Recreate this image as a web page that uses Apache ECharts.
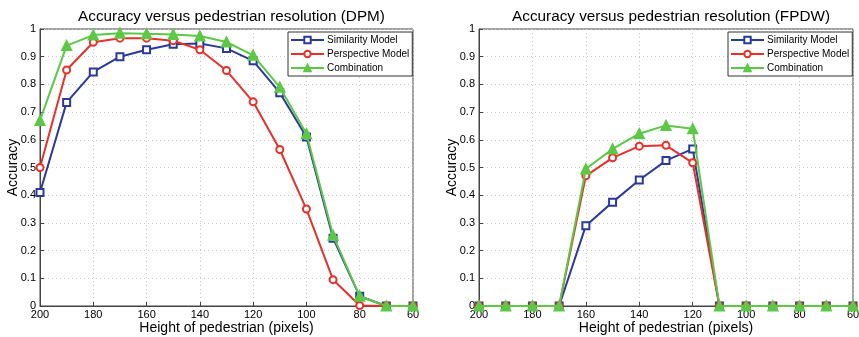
<!DOCTYPE html>
<html><head><meta charset="utf-8">
<script src="https://cdn.jsdelivr.net/npm/echarts@6/dist/echarts.min.js"></script>
<style>html,body{margin:0;padding:0;background:#fff}#c{width:859px;height:337px}</style>
</head><body><div id="c"></div>
<script>
const heights = [200,190,180,170,160,150,140,130,120,110,100,90,80,70,60];
const titles = ['Accuracy versus pedestrian resolution (DPM)','Accuracy versus pedestrian resolution (FPDW)'];
const seriesNames = ['Similarity Model','Perspective Model','Combination'];
const dpmSimilarity  = [0.41,0.735,0.845,0.90,0.925,0.945,0.948,0.93,0.885,0.77,0.61,0.245,0.035,0,0];
const dpmPerspective = [0.50,0.852,0.952,0.967,0.967,0.958,0.925,0.85,0.737,0.565,0.35,0.095,0.002,0,0];
const dpmCombination = [0.67,0.94,0.978,0.985,0.983,0.98,0.975,0.953,0.905,0.79,0.622,0.255,0.035,0,0];
const fpdwSimilarity  = [0,0,0,0,0.29,0.375,0.455,0.525,0.567,0,0,0,0,0,0];
const fpdwPerspective = [0,0,0,0,0.47,0.535,0.577,0.58,0.517,0,0,0,0,0,0];
const fpdwCombination = [0,0,0,0,0.495,0.567,0.622,0.652,0.64,0,0,0,0,0,0];

const colors = ['#2a3a9c','#e8302a','#5cc845'];
const symbols = ['rect','circle','triangle'];
const FONT = 'Liberation Sans';
const grids = [
  {left:40, top:29, width:373, height:277},
  {left:479, top:29, width:374, height:277}
];
const dataSets = [[dpmSimilarity,dpmPerspective,dpmCombination],[fpdwSimilarity,fpdwPerspective,fpdwCombination]];

const xAxes = [], yAxes = [], series = [], titleArr = [], legends = [];
grids.forEach((g,i)=>{
  g.show = true; g.borderColor = '#444'; g.borderWidth = 1; g.outerBoundsMode = 'none'; g.containLabel = false;
  titleArr.push({text:titles[i], left: g.left + g.width/2, top: 4, textAlign:'center',
    textStyle:{fontFamily:FONT, fontSize:15.3, fontWeight:'normal', color:'#000'}});
  xAxes.push({type:'value', gridIndex:i, min:60, max:200, interval:20, inverse:true,
    name:'Height of pedestrian (pixels)', nameLocation:'middle', nameGap:15, nameMoveOverlap:false,
    nameTextStyle:{fontFamily:FONT, fontSize:14, color:'#000'},
    axisLine:{show:true, lineStyle:{color:'#444'}}, axisTick:{show:true, inside:true, length:4, lineStyle:{color:'#444'}},
    axisLabel:{fontFamily:FONT, fontSize:11, color:'#000', margin:3},
    splitLine:{show:true, lineStyle:{color:'#c8c8c8', type:[1,3]}}});
  yAxes.push({type:'value', gridIndex:i, min:0, max:1, interval:0.1,
    name:'Accuracy', nameLocation:'middle', nameGap:20, nameMoveOverlap:false,
    nameTextStyle:{fontFamily:FONT, fontSize:14, color:'#000'},
    axisLine:{show:true, lineStyle:{color:'#444'}}, axisTick:{show:true, inside:true, length:4, lineStyle:{color:'#444'}},
    axisLabel:{fontFamily:FONT, fontSize:11, color:'#000', margin:4, formatter:v=>String(+v.toFixed(1))},
    splitLine:{show:true, lineStyle:{color:'#c8c8c8', type:[1,3]}}});
  seriesNames.forEach((n,k)=>{
    series.push({type:'line', name:n, xAxisIndex:i, yAxisIndex:i,
      data: heights.map((h,j)=>[h, dataSets[i][k][j]]),
      symbol: symbols[k], symbolSize: k===2?9:7,
      lineStyle:{color:colors[k], width:2},
      itemStyle:{color: k===2?colors[k]:'#ffffff', borderColor:colors[k], borderWidth:2},
      emphasis:{disabled:true}, animation:false, z: 2+k});
  });
  legends.push({data:seriesNames, orient:'vertical', left: i===0?288:728, top:32,
    padding:[2,3,2,2], itemGap:2, itemWidth:33, itemHeight:8,
    backgroundColor:'#fff', borderColor:'#333', borderWidth:1,
    textStyle:{fontFamily:FONT, fontSize:10, color:'#000', padding:[0,0,0,-2], lineHeight:12}, selectedMode:false});
});

const chart = echarts.init(document.getElementById('c'));
chart.setOption({animation:false, color:colors, title:titleArr, legend:legends, grid:grids,
  xAxis:xAxes, yAxis:yAxes, series:series});
</script></body></html>
